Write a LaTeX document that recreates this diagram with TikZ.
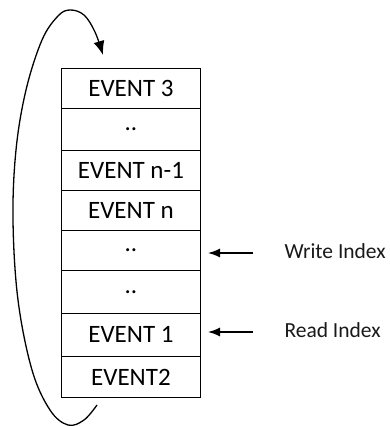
\documentclass[tikz,border=0pt]{standalone}
\usepackage{fontspec}
\setmainfont{Carlito}
\usetikzlibrary{arrows.meta}
\begin{document}
\begin{tikzpicture}[x=1pt,y=-1pt,
  cell/.style={draw=black,line width=0.9pt,minimum width=139pt,inner sep=0pt,anchor=north west,font=\fontsize{25}{27}\selectfont,text=black},
  lbl/.style={anchor=west,font=\fontsize{21.5}{23}\selectfont,text=black!90},
  ptr/.style={line width=1.4pt,-{Latex[length=12pt,width=9pt]}},
  loop/.style={line width=1.3pt,-{Latex[length=14pt,width=11pt]}}]
\useasboundingbox (0,0) rectangle (389,426);
\node[cell,minimum height=40pt] (r1) at (61,68) {EVENT 3};
\node[cell,minimum height=42pt] (r2) at (61,108) {..};
\node[cell,minimum height=40pt] (r3) at (61,150) {EVENT n-1};
\node[cell,minimum height=40pt] (r4) at (61,190) {EVENT n};
\node[cell,minimum height=40pt] (r5) at (61,230) {..};
\node[cell,minimum height=43pt] (r6) at (61,270) {..};
\node[cell,minimum height=43pt] (r7) at (61,313) {EVENT 1};
\node[cell,minimum height=41pt] (r8) at (61,356) {EVENT2};
\node[lbl] (w) at (281,251) {Write Index};
\node[lbl] (rd) at (281,330) {Read Index};
\coordinate (ws) at (253,253);
\coordinate (we) at (208,253);
\coordinate (rs) at (253,332);
\coordinate (re) at (208,332);
\draw[ptr] (ws) -- (we);
\draw[ptr] (rs) -- (re);
\coordinate (cs) at (97,405);
\coordinate (ce) at (103,55);
\draw[loop] plot[smooth,tension=0.6] coordinates {(cs) (84,420) (68,425) (50,410) (32,370) (18,300) (13,220) (16,150) (26,90) (42,40) (58,16) (70,10) (84,15) (95,32) (ce)};
\end{tikzpicture}
\end{document}
